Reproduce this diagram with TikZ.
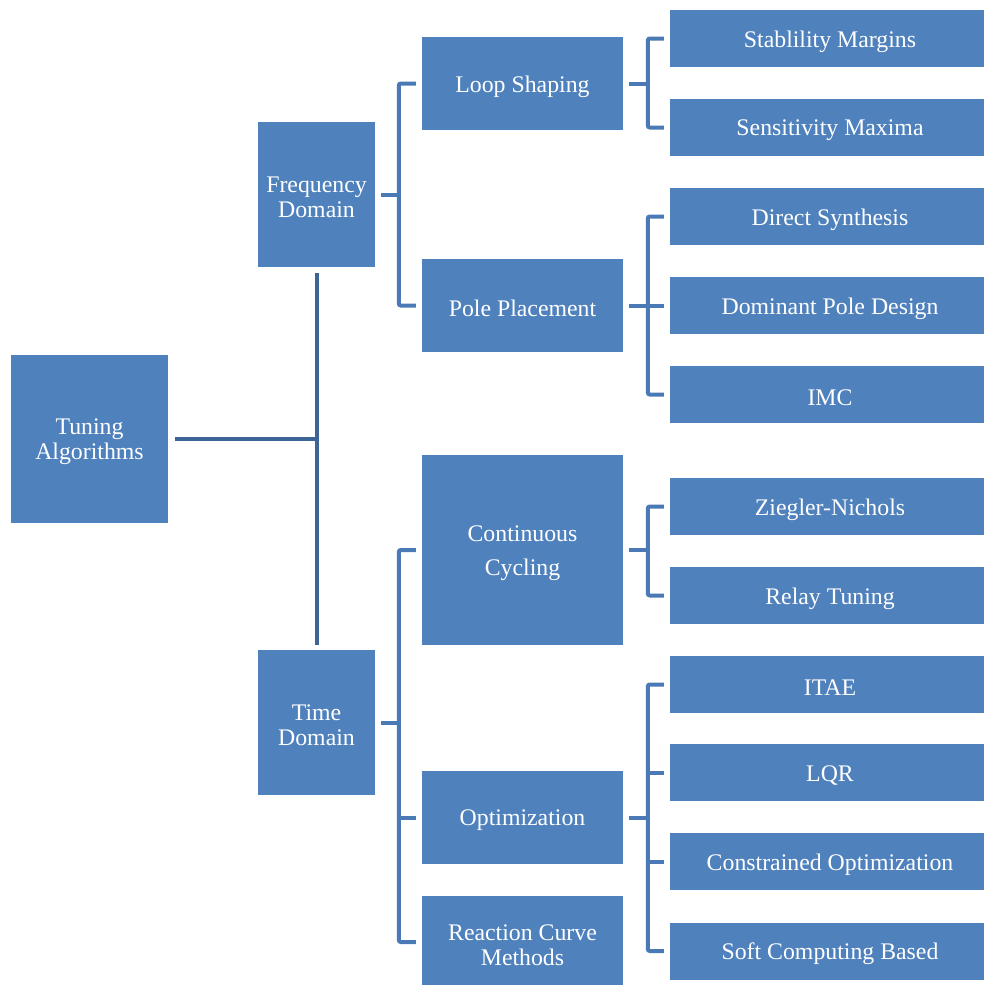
\documentclass[tikz,border=0pt]{standalone}
\usepackage{fontspec}
\setmainfont{Liberation Serif}
\usetikzlibrary{calc}
\definecolor{boxblue}{HTML}{4F81BD}
\definecolor{rootline}{HTML}{3C6496}
\definecolor{brline}{HTML}{4A7AB5}
\tikzset{
  box/.style={draw=none, fill=boxblue, text=white, inner sep=0pt, align=center,
    font=\fontsize{23.8}{25}\selectfont, yshift=0pt},
  lbl/.style={text=white, inner sep=0pt, align=center,
    font=\fontsize{23.8}{25}\selectfont, yshift=-3pt},
  leaflbl/.style={lbl, xshift=3pt},
  rootbox/.style={box, minimum width=157pt, minimum height=168pt},
  domainbox/.style={box, minimum width=117pt, minimum height=145pt},
  midbox/.style={box, minimum width=201pt, minimum height=93pt},
  leafbox/.style={box, minimum width=314pt, minimum height=57pt},
  rootconn/.style={draw=rootline, line width=4pt},
  brconn/.style={draw=brline, line width=4pt, rounded corners=2pt},
}
\begin{document}
\begin{tikzpicture}[x=1pt,y=-1pt]
\useasboundingbox (0,0) rectangle (984,985);
\fill[white] (0,0) rectangle (984,985);
% nodes
\node[rootbox, label={[lbl]center:Tuning\\Algorithms}] (root) at (89.5,439) {};
\node[domainbox, label={[lbl]center:Frequency\\Domain}] (fd) at (316.5,194.5) {};
\node[domainbox, label={[lbl]center:Time\\Domain}] (td) at (316.5,722.5) {};
\node[midbox, label={[lbl]center:Loop Shaping}] (ls) at (522.5,83.5) {};
\node[midbox, label={[lbl]center:Pole Placement}] (pp) at (522.5,305.5) {};
\node[midbox, minimum height=190pt, label={[lbl]center:Continuous\\[9pt]Cycling}] (cc) at (522.5,550) {};
\node[midbox, label={[lbl]center:Optimization}] (opt) at (522.5,817.5) {};
\node[midbox, label={[lbl]center:Reaction Curve\\Methods}] (rc) at (522.5,942) {};
\node[leafbox, label={[leaflbl]center:Stablility Margins}] (sm) at (827,38.5) {};
\node[leafbox, label={[leaflbl]center:Sensitivity Maxima}] (sem) at (827,127.5) {};
\node[leafbox, label={[leaflbl]center:Direct Synthesis}] (ds) at (827,216.5) {};
\node[leafbox, label={[leaflbl]center:Dominant Pole Design}] (dpd) at (827,305.5) {};
\node[leafbox, label={[leaflbl]center:IMC}] (imc) at (827,394.5) {};
\node[leafbox, label={[leaflbl]center:Ziegler-Nichols}] (zn) at (827,506.5) {};
\node[leafbox, label={[leaflbl]center:Relay Tuning}] (rt) at (827,595.5) {};
\node[leafbox, label={[leaflbl]center:ITAE}] (itae) at (827,684.5) {};
\node[leafbox, label={[leaflbl]center:LQR}] (lqr) at (827,772.5) {};
\node[leafbox, label={[leaflbl]center:Constrained Optimization}] (co) at (827,861.5) {};
\node[leafbox, label={[leaflbl]center:Soft Computing Based}] (scb) at (827,951) {};
% root connectors
\draw[rootconn] ([yshift=-6pt]fd.south) -- ([yshift=5pt]td.north);
\draw[rootconn] ([xshift=7pt]root.east) -- (root.east -| fd.south);
% frequency domain bracket
\draw[brconn] ([xshift=6pt]fd.east) -- ([xshift=24pt]fd.east);
\draw[brconn] ([xshift=-6pt]ls.west) -- ++(-17,0) |- ([xshift=-6pt]pp.west);
% time domain bracket
\draw[brconn] ([xshift=6pt]td.east) -- ([xshift=24pt]td.east);
\draw[brconn] ([xshift=-6pt]cc.west) -- ++(-17,0) |- ([xshift=-6pt]rc.west);
\draw[brconn] ([xshift=-23pt]opt.west) -- ([xshift=-6pt]opt.west);
% loop shaping bracket
\draw[brconn] ([xshift=6pt]ls.east) -- ([xshift=25pt]ls.east);
\draw[brconn] ([xshift=-6pt]sm.west) -- ++(-16,0) |- ([xshift=-6pt]sem.west);
% pole placement bracket
\draw[brconn] ([xshift=6pt]pp.east) -- ([xshift=25pt]pp.east);
\draw[brconn] ([xshift=-6pt]ds.west) -- ++(-16,0) |- ([xshift=-6pt]imc.west);
\draw[brconn] ([xshift=-22pt]dpd.west) -- ([xshift=-6pt]dpd.west);
% continuous cycling bracket
\draw[brconn] ([xshift=6pt]cc.east) -- ([xshift=25pt]cc.east);
\draw[brconn] ([xshift=-6pt]zn.west) -- ++(-16,0) |- ([xshift=-6pt]rt.west);
% optimization bracket
\draw[brconn] ([xshift=6pt]opt.east) -- ([xshift=25pt]opt.east);
\draw[brconn] ([xshift=-6pt]itae.west) -- ++(-16,0) |- ([xshift=-6pt]scb.west);
\draw[brconn] ([xshift=-22pt]lqr.west) -- ([xshift=-6pt]lqr.west);
\draw[brconn] ([xshift=-22pt]co.west) -- ([xshift=-6pt]co.west);
\end{tikzpicture}
\end{document}
